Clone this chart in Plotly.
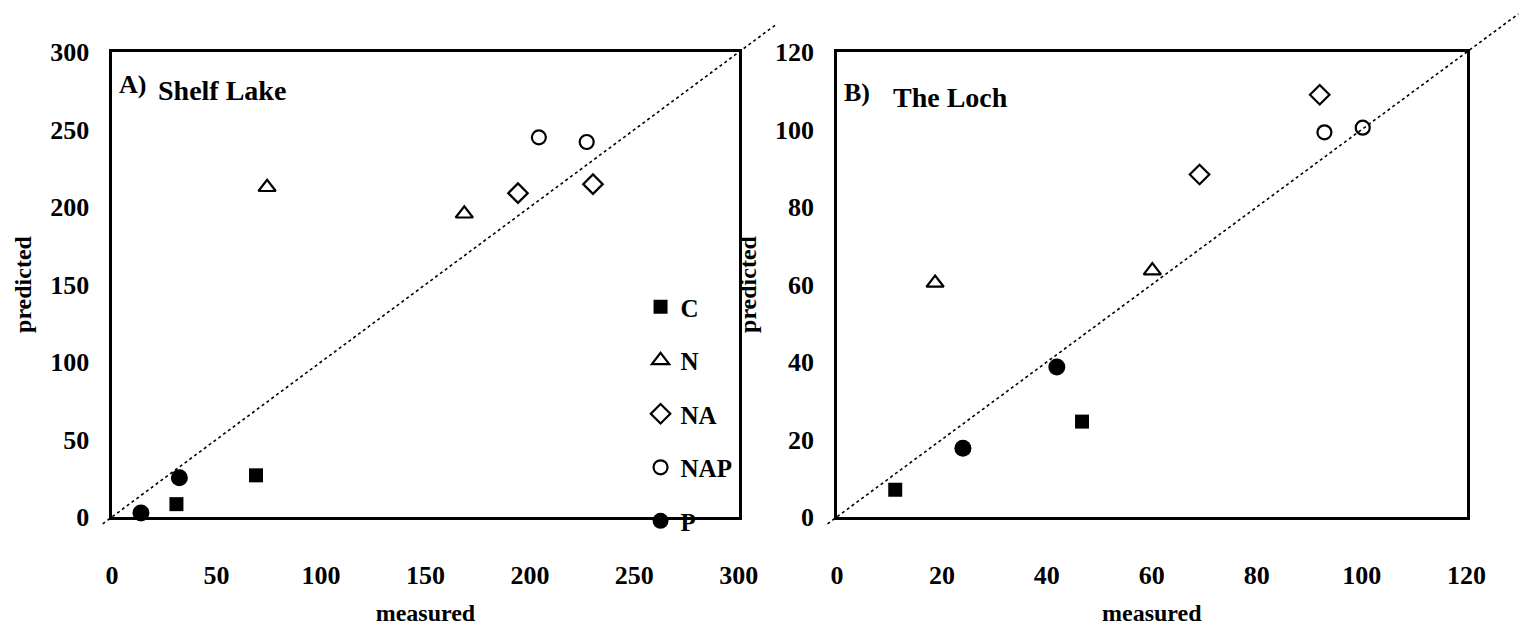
import plotly.graph_objects as go

# ---------------- data ----------------
series_names = ["C", "N", "NA", "NAP", "P"]

# A) Shelf Lake
shelf_C_x = [30.8, 68.9]
shelf_C_y = [8.2, 26.8]
shelf_N_x = [74.2, 168.6]
shelf_N_y = [212.8, 195.7]
shelf_NA_x = [194.3, 230.2]
shelf_NA_y = [209.0, 214.8]
shelf_NAP_x = [204.3, 227.2]
shelf_NAP_y = [245.0, 242.0]
shelf_P_x = [13.8, 32.2]
shelf_P_y = [2.5, 25.3]

# B) The Loch
loch_C_x = [11.1, 46.7]
loch_C_y = [7.0, 24.6]
loch_N_x = [18.7, 60.1]
loch_N_y = [60.4, 63.6]
loch_NA_x = [69.1, 92.0]
loch_NA_y = [88.4, 109.0]
loch_NAP_x = [92.9, 100.2]
loch_NAP_y = [99.3, 100.5]
loch_P_x = [24.0, 41.9]
loch_P_y = [17.7, 38.7]

shelf_ticks = [0, 50, 100, 150, 200, 250, 300]
loch_ticks = [0, 20, 40, 60, 80, 100, 120]
shelf_range = [0, 300]
loch_range = [0, 120]

# ---------------- layout geometry ----------------
W, H = 1521, 633
left_dom = [107 / W, 745 / W]
right_dom = [845 / W, 1486 / W]
y_dom = [(H - 527) / H, (H - 40) / H]

FONT = "Liberation Serif"

styles = {
    "C": dict(symbol="square", size=14, color="black", line=dict(width=0)),
    "N": dict(symbol="triangle-up-open", size=15, color="black", line=dict(width=2.2, color="black")),
    "NA": dict(symbol="diamond-open", size=15, color="black", line=dict(width=2.2, color="black")),
    "NAP": dict(symbol="circle-open", size=14, color="black", line=dict(width=2.2, color="black")),
    "P": dict(symbol="circle", size=17, color="black", line=dict(width=0)),
}

shelf = {
    "C": (shelf_C_x, shelf_C_y), "N": (shelf_N_x, shelf_N_y), "NA": (shelf_NA_x, shelf_NA_y),
    "NAP": (shelf_NAP_x, shelf_NAP_y), "P": (shelf_P_x, shelf_P_y),
}
loch = {
    "C": (loch_C_x, loch_C_y), "N": (loch_N_x, loch_N_y), "NA": (loch_NA_x, loch_NA_y),
    "NAP": (loch_NAP_x, loch_NAP_y), "P": (loch_P_x, loch_P_y),
}

fig = go.Figure()

for name in series_names:
    x, y = shelf[name]
    fig.add_trace(go.Scatter(x=x, y=y, mode="markers", name=name, legendgroup=name,
                             marker=styles[name], xaxis="x", yaxis="y", cliponaxis=False))
for name in series_names:
    x, y = loch[name]
    fig.add_trace(go.Scatter(x=x, y=y, mode="markers", name=name, legendgroup=name,
                             showlegend=False, marker=styles[name], xaxis="x2", yaxis="y2",
                             cliponaxis=False))


# 1:1 reference lines (extended beyond the frame, as in the original)
def to_paper(v, rng, dom):
    return dom[0] + (v - rng[0]) / (rng[1] - rng[0]) * (dom[1] - dom[0])


def one_to_one(rng, xdom, top_paper):
    span = rng[1] - rng[0]
    v_start = rng[0] - 0.015 * span
    v_end = rng[0] + (top_paper - y_dom[0]) / (y_dom[1] - y_dom[0]) * span
    return dict(type="line", xref="paper", yref="paper",
                x0=to_paper(v_start, rng, xdom), y0=to_paper(v_start, rng, y_dom),
                x1=to_paper(v_end, rng, xdom), y1=to_paper(v_end, rng, y_dom),
                line=dict(color="black", width=1.6, dash="dot"), layer="below")


shapes = [one_to_one(shelf_range, left_dom, 1 - 10 / H),
          one_to_one(loch_range, right_dom, 1.0)]

axis_common = dict(showgrid=False, zeroline=False, showline=True, linecolor="black",
                   linewidth=2.5, mirror=True, ticks="",
                   tickfont=dict(family=FONT, size=26, color="black", weight="bold"))

title_font = dict(family=FONT, size=24, color="black", weight="bold")

fig.update_layout(
    width=W, height=H,
    margin=dict(l=0, r=0, t=0, b=0),
    paper_bgcolor="white", plot_bgcolor="white",
    showlegend=True,
    shapes=shapes,
    legend=dict(x=645 / W, y=1 - 283 / H, xanchor="left", yanchor="top",
                font=dict(family=FONT, size=25, color="black", weight="bold"),
                bgcolor="rgba(0,0,0,0)", traceorder="grouped", tracegroupgap=18,
                itemwidth=30),
    xaxis=dict(domain=left_dom, range=shelf_range, tickvals=shelf_ticks, anchor="y",
               ticklabelstandoff=33,
               title=dict(text="measured", font=title_font, standoff=16),
               **axis_common),
    yaxis=dict(domain=y_dom, range=shelf_range, tickvals=shelf_ticks, anchor="x",
               ticklabelstandoff=15,
               title=dict(text="predicted", font=title_font, standoff=12),
               **axis_common),
    xaxis2=dict(domain=right_dom, range=loch_range, tickvals=loch_ticks, anchor="y2",
                ticklabelstandoff=33,
                title=dict(text="measured", font=title_font, standoff=16),
                **axis_common),
    yaxis2=dict(domain=y_dom, range=loch_range, tickvals=loch_ticks, anchor="x2",
                ticklabelstandoff=15,
                title=dict(text="predicted", font=title_font, standoff=12),
                **axis_common),
    annotations=[
        dict(text="<b>A)</b>", xref="paper", yref="paper", x=112 / W, y=1 - 74 / H,
             xanchor="left", yanchor="middle", showarrow=False,
             font=dict(family=FONT, size=26, color="black")),
        dict(text="<b>Shelf Lake</b>", xref="paper", yref="paper", x=152 / W, y=1 - 80 / H,
             xanchor="left", yanchor="middle", showarrow=False,
             font=dict(family=FONT, size=28, color="black")),
        dict(text="<b>B)</b>", xref="paper", yref="paper", x=850 / W, y=1 - 82 / H,
             xanchor="left", yanchor="middle", showarrow=False,
             font=dict(family=FONT, size=26, color="black")),
        dict(text="<b>The Loch</b>", xref="paper", yref="paper", x=900 / W, y=1 - 88 / H,
             xanchor="left", yanchor="middle", showarrow=False,
             font=dict(family=FONT, size=28, color="black")),
    ],
)

fig.write_html("out.html")
